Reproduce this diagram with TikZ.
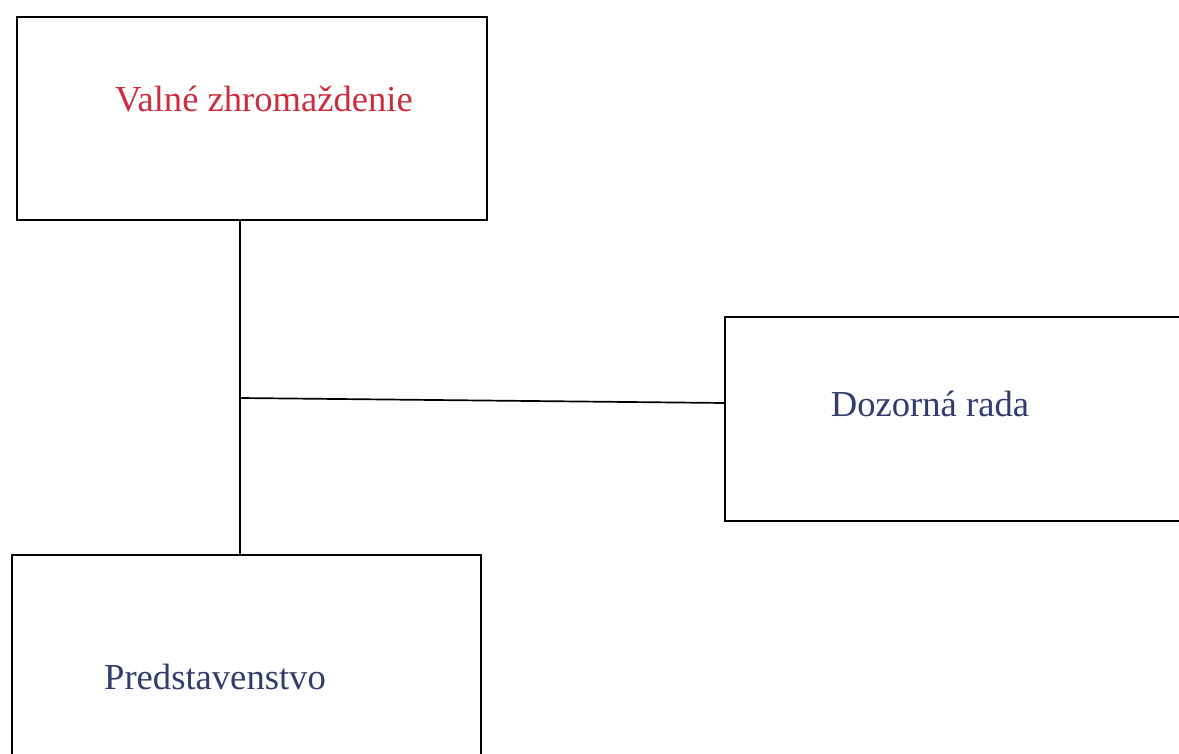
\documentclass[tikz,border=0pt]{standalone}
\usepackage{fontspec}
\setmainfont{Liberation Serif}
\definecolor{vzred}{RGB}{205,45,60}
\definecolor{orgblue}{RGB}{50,60,110}
\begin{document}
\begin{tikzpicture}[x=1pt,y=-1pt,font=\fontsize{36.6}{42}\selectfont,
  box/.style={draw,line width=1.7pt,inner sep=0pt},
  conn/.style={line width=1.7pt}]
\useasboundingbox (0,0) rectangle (1179,754);
\clip (0,0) rectangle (1179,754);

\node[box,minimum width=470pt,minimum height=203pt] (vz) at (252,118.5) {};
\node[box,minimum width=460pt,minimum height=204pt] (dr) at (955,419) {};
\node[box,minimum width=469pt,minimum height=210pt] (pr) at (246.5,660) {};

\node[text=vzred] (vzt) at (264,99) {Valné zhromaždenie};
\node[text=orgblue] (drt) at (930,404) {Dozorná rada};
\node[text=orgblue] (prt) at (215,677) {Predstavenstvo};

\coordinate (top) at (vz.south west -| 240,0);
\coordinate (bot) at (pr.north west -| 240,0);
\coordinate (j) at (240,398);
\coordinate (e) at (dr.west |- 0,403);
\draw[conn] (top) -- (bot);
\draw[conn] (j) -- (e);

\end{tikzpicture}
\end{document}
